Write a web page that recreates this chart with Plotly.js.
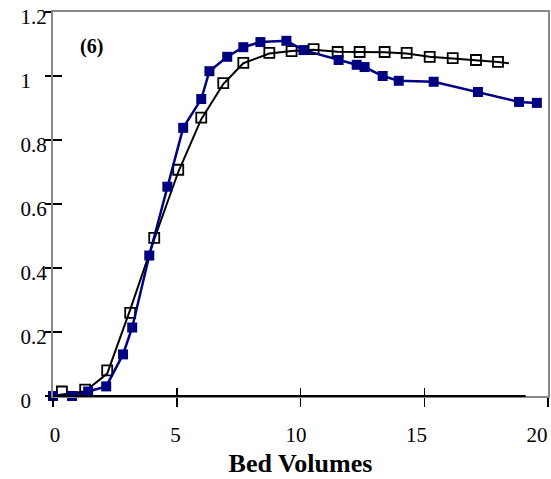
<!DOCTYPE html>
<html>
<head>
<meta charset="utf-8">
<script src="https://cdn.plot.ly/plotly-3.0.1.min.js"></script>
<style>html,body{margin:0;padding:0;background:#fff;}#chart{width:551px;height:479px;}</style>
</head>
<body>
<div id="chart"></div>
<script>
// Blue series (filled squares)
var blueX = [0, 0.77, 1.42, 2.15, 2.83, 3.2, 3.89, 4.62, 5.26, 5.99, 6.32, 7.04, 7.69, 8.38, 9.43, 10.12, 11.54, 12.27, 12.59, 13.32, 13.97, 15.38, 17.17, 18.83, 19.55];
var blueY = [0, 0.0, 0.014, 0.03, 0.13, 0.214, 0.439, 0.654, 0.838, 0.928, 1.015, 1.06, 1.09, 1.106, 1.11, 1.081, 1.05, 1.035, 1.028, 1.0, 0.985, 0.982, 0.95, 0.919, 0.916];
// Black series (open squares)
var blackX = [0.36, 1.3, 2.19, 3.12, 4.09, 5.06, 5.99, 6.88, 7.69, 8.74, 9.64, 10.53, 11.5, 12.39, 13.4, 14.29, 15.22, 16.15, 17.09, 17.98];
var blackY = [0.014, 0.02, 0.08, 0.26, 0.494, 0.707, 0.87, 0.978, 1.041, 1.072, 1.078, 1.084, 1.075, 1.075, 1.075, 1.072, 1.06, 1.056, 1.05, 1.044];
// Black fitted curve (line only)
var fitX = [0, 0.36, 1.3, 2.19, 3.12, 4.09, 5.06, 5.99, 6.88, 7.69, 8.74, 9.64, 10.53, 11.5, 12.39, 13.4, 14.29, 15.22, 16.15, 17.09, 17.98, 18.42];
var fitY = [0, 0.005, 0.015, 0.07, 0.27, 0.49, 0.70, 0.865, 0.975, 1.04, 1.07, 1.078, 1.082, 1.076, 1.075, 1.074, 1.07, 1.06, 1.055, 1.05, 1.044, 1.04];
var yTicks = [0, 0.2, 0.4, 0.6, 0.8, 1, 1.2];
// labels are left-aligned in the original: short ones padded with no-break spaces
var yTickText = ['0\u00a0\u00a0\u00a0', '0.2', '0.4', '0.6', '0.8', '1\u00a0\u00a0\u00a0', '1.2'];
var xTicks = [0, 5, 10, 15, 20];
var xTickText = ['0', '5', '10', '15', '20'];
var panelLabel = '(6)';
var xTitle = 'Bed Volumes';

var serif = 'Liberation Serif';
var navy = '#000080';

var traces = [
  {x: fitX, y: fitY, mode: 'lines', line: {color: '#000', width: 2}, hoverinfo: 'skip', cliponaxis: false},
  {x: blackX, y: blackY, mode: 'markers', cliponaxis: false, marker: {symbol: 'square-open', size: 10, color: '#000', line: {width: 1.8, color: '#000'}}},
  {x: blueX, y: blueY, mode: 'lines+markers', cliponaxis: false, line: {color: navy, width: 2.5}, marker: {symbol: 'square', size: 10, color: navy}}
];

var layout = {
  width: 551, height: 479,
  margin: {l: 53, r: 3, t: 12, b: 83},
  showlegend: false,
  paper_bgcolor: '#fff', plot_bgcolor: '#fff',
  font: {family: serif, color: '#000'},
  xaxis: {
    range: [0, 20], tickvals: xTicks, showticklabels: false,
    ticks: 'outside', ticklen: 9, tickwidth: 1.5, tickcolor: '#000',
    showgrid: false, zeroline: false,
    showline: true, linecolor: '#888', linewidth: 2, mirror: true
  },
  xaxis3: {
    overlaying: 'x', anchor: 'y', range: [-0.083, 20.457],
    tickvals: xTicks, ticktext: xTickText, ticks: 'outside', ticklen: 9, tickcolor: 'rgba(0,0,0,0)',
    showgrid: false, zeroline: false, showline: false,
    tickfont: {family: serif, size: 21, color: '#000'},
    ticklabelstandoff: 11, ticklabeloverflow: 'allow',
    title: {text: '<b>' + xTitle + '</b>', font: {family: serif, size: 26, color: '#000'}, standoff: 7}
  },
  yaxis: {
    range: [0, 1.2], tickvals: yTicks, ticktext: yTickText,
    ticks: 'outside', ticklen: 6, tickwidth: 1.5, tickcolor: '#000',
    showgrid: false, zeroline: false,
    showline: true, linecolor: '#888', linewidth: 2, mirror: true,
    tickfont: {family: serif, size: 21, color: '#000'},
    ticklabelshift: 5, ticklabelstandoff: -6, ticklabeloverflow: 'allow'
  },
  xaxis2: {
    overlaying: 'x', range: [0, 20], tickvals: xTicks, showticklabels: false,
    ticks: 'inside', ticklen: 8, tickwidth: 1.5, tickcolor: '#000',
    showgrid: false, zeroline: false, showline: false
  },
  yaxis2: {
    overlaying: 'y', range: [0, 1.2], tickvals: yTicks, showticklabels: false,
    ticks: 'inside', ticklen: 9, tickwidth: 1.5, tickcolor: '#000',
    showgrid: false, zeroline: false, showline: false
  },
  shapes: [
    {type: 'line', xref: 'paper', yref: 'paper', x0: 0, x1: 0.955, y0: 0, y1: 0, line: {color: '#000', width: 2}}
  ],
  annotations: [
    {text: '<b>' + panelLabel + '</b>', xref: 'paper', yref: 'paper', x: 0.077, y: 0.909, xanchor: 'center', yanchor: 'middle', showarrow: false, font: {family: serif, size: 20, color: '#000'}}
  ]
};

traces.push({x: [], y: [], xaxis: 'x2', yaxis: 'y2', mode: 'markers', hoverinfo: 'skip'});
traces.push({x: [], y: [], xaxis: 'x3', yaxis: 'y', mode: 'markers', hoverinfo: 'skip'});

Plotly.newPlot('chart', traces, layout, {displayModeBar: false, staticPlot: true});
</script>
</body>
</html>
